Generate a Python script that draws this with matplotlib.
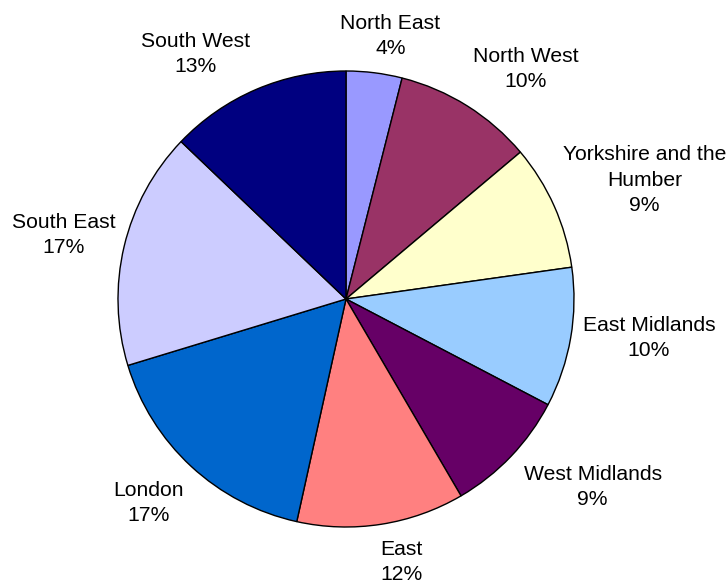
import matplotlib.pyplot as plt
import numpy as np

plt.rcParams['font.family'] = ['Liberation Sans', 'DejaVu Sans']

regions = ["North East", "North West", "Yorkshire and the\nHumber", "East Midlands",
           "West Midlands", "East", "London", "South East", "South West"]
shares = [4, 10, 9, 10, 9, 12, 17, 17, 13]
colors = ["#9999FF", "#993366", "#FFFFCC", "#99CCFF", "#660066",
          "#FF8080", "#0066CC", "#CCCCFF", "#000080"]

# label placement: (angle clockwise from 12 o'clock in degrees, distance in radii)
label_pos = [(9.6, 1.17), (38.0, 1.28), (68.3, 1.41), (97.3, 1.34), (127.3, 1.36),
             (168.2, 1.18), (224.1, 1.245), (282.8, 1.27), (328.5, 1.26)]

fig = plt.figure(figsize=(7.28, 5.84), dpi=100)
ax = fig.add_axes([0, 0, 1, 1])

ax.pie(shares, colors=colors, startangle=90, counterclock=False, radius=1.0,
       wedgeprops=dict(edgecolor="black", linewidth=1.0))

total = sum(shares)
for name, val, (ang, dist) in zip(regions, shares, label_pos):
    a = np.deg2rad(ang)
    x = dist * np.sin(a)
    y = dist * np.cos(a)
    pct = int(round(100 * val / total))
    ax.text(x, y, f"{name}\n{pct}%", ha="center", va="center",
            fontsize=15.2, linespacing=1.41)

# keep the pie centre and radius in pixel terms: 228 px per unit
ax.set_xlim(-346 / 228, (728 - 346) / 228)
ax.set_ylim(-(584 - 299) / 228, 299 / 228)
ax.set_aspect("equal")
ax.axis("off")

fig.savefig("out.png", dpi=100)
